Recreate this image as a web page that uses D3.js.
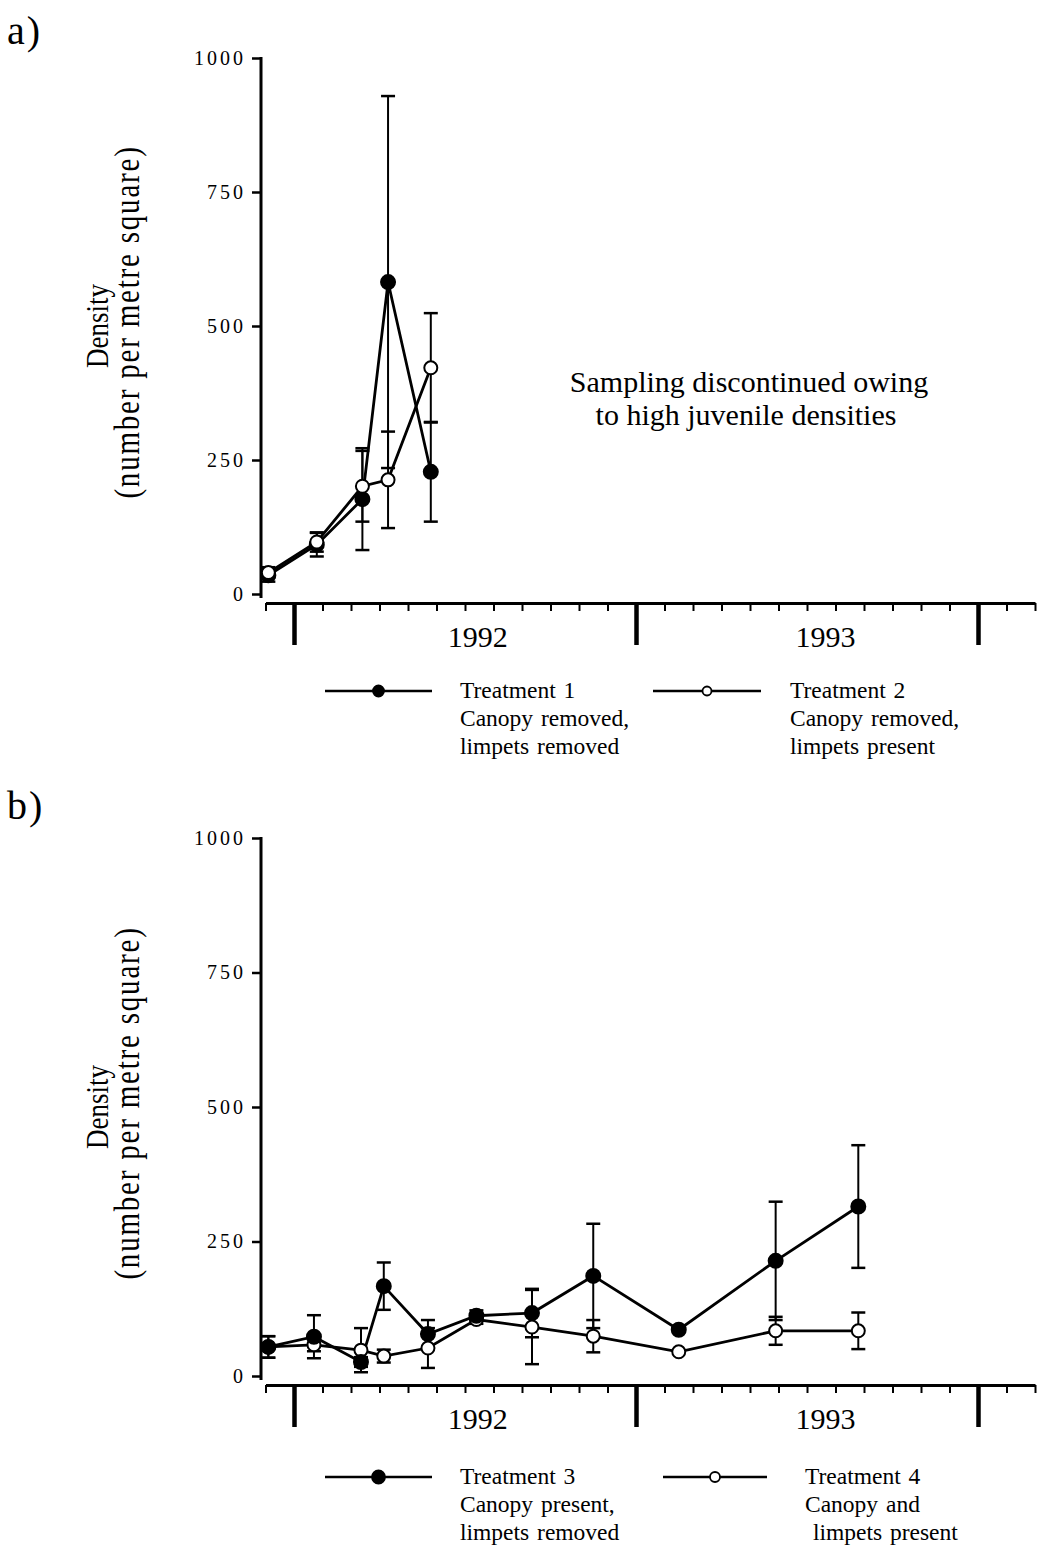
<!DOCTYPE html>
<html>
<head>
<meta charset="utf-8">
<script src="https://cdn.jsdelivr.net/npm/d3@7"></script>
<style>
  html, body { margin: 0; padding: 0; background: #fff; }
  svg { display: block; }
  text { font-family: "Liberation Serif", "Times New Roman", serif; fill: #000; }
</style>
</head>
<body>
<svg id="chart" width="1041" height="1562"></svg>
<script>
// Sampling times, in months from 1 January 1992
const monthsA = [-0.9, 0.8, 2.4, 3.3, 4.8];
const monthsB = [-0.9, 0.7, 2.35, 3.15, 4.7, 6.4, 8.35, 10.5, 13.5, 16.9, 19.8];

// Mean densities (number per square metre) and error half-widths
const t1Mean = [35, 92, 177, 582, 228];
const t1Err  = [12, 22, 95, 347, 93];
const t2Mean = [40, 97, 201, 213, 422];
const t2Err  = [10, 18, 66, 90, 102];

const t3Mean = [54, 73, 26, 167, 78, 112, 117, 186, 86, 214, 315];
const t3Err  = [20, 40, 9, 44, 26, 10, 45, 97, 0, 110, 114];
const t4Mean = [54, 58, 48, 37, 52, 105, 91, 74, 45, 84, 84];
const t4Err  = [20, 12, 41, 12, 37, 8, 69, 30, 0, 26, 34];

const yTicks = [0, 250, 500, 750, 1000];
const yearLabels = ["1992", "1993"];
const yearLabelMonths = [6.45, 18.65];
const yearStarts = [0, 12, 24];

const legendA = [
  { filled: true,  lines: ["Treatment 1", "Canopy removed,", "limpets removed"] },
  { filled: false, lines: ["Treatment 2", "Canopy removed,", "limpets present"] }
];
const legendB = [
  { filled: true,  lines: ["Treatment 3", "Canopy present,", "limpets removed"] },
  { filled: false, lines: ["Treatment 4", "Canopy and", " limpets present"] }
];

const svg = d3.select("#chart");
const x = d3.scaleLinear().domain([-1, 26]).range([265.5, 1035]);

function panel(cfg) {
  const y = d3.scaleLinear().domain([0, 1000]).range([cfg.y0, cfg.y1000]);
  const g = svg.append("g");

  // panel letter
  g.append("text").attr("x", 7).attr("y", cfg.letterY)
    .style("font-size", "40px").style("letter-spacing", "2px").text(cfg.letter);

  // y axis
  const ya = g.append("g").attr("transform", "translate(261,0)")
    .call(d3.axisLeft(y).tickValues(yTicks).tickFormat(d3.format("d"))
      .tickSize(9).tickSizeOuter(0).tickPadding(6));
  ya.select(".domain").attr("stroke-width", 3).attr("d", `M0,${cfg.y1000 - 1}V${cfg.y0 + 4}`);
  ya.selectAll(".tick line").attr("stroke-width", 2.5);
  ya.selectAll(".tick text").style("font-size", "20px")
    .style("font-family", "'Liberation Serif', serif").style("letter-spacing", "3px");

  // y axis title (glyphs drawn slightly tall and narrow)
  const yc = (cfg.y0 + cfg.y1000) / 2;
  const stretch = 1.2;
  const title = g.append("text")
    .attr("transform", `translate(0,${yc}) rotate(-90) scale(1,${stretch})`)
    .attr("text-anchor", "middle");
  title.append("tspan").attr("x", 0).attr("y", 108 / stretch)
    .style("font-size", "27px").text("Density");
  title.append("tspan").attr("x", 4).attr("y", 139 / stretch)
    .style("font-size", "29px").style("letter-spacing", "1.8px").text("(number per metre square)");

  // x axis: monthly minor ticks and long year-boundary ticks
  const xa = g.append("g").attr("transform", `translate(0,${cfg.axisY})`)
    .call(d3.axisBottom(x).tickValues(d3.range(-1, 27)).tickSize(8).tickSizeOuter(0).tickFormat(""));
  xa.select(".domain").attr("stroke-width", 3);
  xa.selectAll(".tick line").attr("stroke-width", 2);
  const xm = g.append("g").attr("transform", `translate(0,${cfg.axisY})`)
    .call(d3.axisBottom(x).tickValues(yearStarts).tickSize(42).tickSizeOuter(0).tickFormat(""));
  xm.select(".domain").remove();
  xm.selectAll(".tick line").attr("stroke-width", 4.5);

  g.selectAll(".yearLabel").data(yearLabels).join("text")
    .attr("x", (d, i) => x(yearLabelMonths[i]))
    .attr("y", cfg.axisY + 44)
    .attr("text-anchor", "middle").style("font-size", "30px")
    .text(d => d);

  // series
  cfg.series.forEach(s => {
    const pts = cfg.months.map((m, i) => ({ m, v: s.mean[i], e: s.err[i] }));
    // error bars
    const eb = g.append("g").attr("stroke", "#000").attr("stroke-width", 2);
    pts.filter(p => p.e > 0).forEach(p => {
      const cx = x(p.m);
      eb.append("line").attr("x1", cx).attr("x2", cx)
        .attr("y1", y(p.v - p.e)).attr("y2", y(p.v + p.e));
      [p.v - p.e, p.v + p.e].forEach(v => {
        eb.append("line").attr("x1", cx - 7).attr("x2", cx + 7)
          .attr("y1", y(v)).attr("y2", y(v)).attr("stroke-width", 2.5);
      });
    });
    s.pts = pts;
  });
  cfg.series.forEach(s => {
    g.append("path").datum(s.pts)
      .attr("fill", "none").attr("stroke", "#000").attr("stroke-width", 2.8)
      .attr("d", d3.line().x(d => x(d.m)).y(d => y(d.v)));
  });
  // markers, in the stacking order given by the panel
  cfg.markerOrder.forEach(idx => {
    const s = cfg.series[idx];
    g.selectAll(null).data(s.pts).join("circle")
      .attr("cx", d => x(d.m)).attr("cy", d => y(d.v))
      .attr("r", s.filled ? 7 : 6.5)
      .attr("fill", s.filled ? "#000" : "#fff")
      .attr("stroke", "#000").attr("stroke-width", 2);
  });

  // legend
  cfg.legend.forEach((item, i) => {
    const L = cfg.legendPos[i];
    g.append("line").attr("x1", L.x1).attr("x2", L.x2)
      .attr("y1", L.y).attr("y2", L.y).attr("stroke", "#000").attr("stroke-width", 2.4);
    g.append("circle").attr("cx", (L.x1 + L.x2) / 2).attr("cy", L.y)
      .attr("r", item.filled ? L.rf : L.ro)
      .attr("fill", item.filled ? "#000" : "#fff")
      .attr("stroke", "#000").attr("stroke-width", 1.8);
    const t = g.append("text").style("font-size", "23.5px").style("word-spacing", "2px")
      .attr("xml:space", "preserve");
    item.lines.forEach((ln, k) => {
      t.append("tspan").attr("x", L.tx).attr("y", L.y + 7 + k * 28).text(ln);
    });
  });
}

panel({
  letter: "a)", letterY: 44,
  y0: 594, y1000: 58, axisY: 603,
  months: monthsA,
  series: [
    { mean: t1Mean, err: t1Err, filled: true },
    { mean: t2Mean, err: t2Err, filled: false }
  ],
  markerOrder: [0, 1],
  legend: legendA,
  legendPos: [
    { x1: 325, x2: 432, y: 691, tx: 460, rf: 5.5, ro: 4.5 },
    { x1: 653, x2: 761, y: 691, tx: 790, rf: 5.5, ro: 4.5 }
  ]
});

panel({
  letter: "b)", letterY: 819,
  y0: 1376, y1000: 838, axisY: 1385,
  months: monthsB,
  series: [
    { mean: t3Mean, err: t3Err, filled: true },
    { mean: t4Mean, err: t4Err, filled: false }
  ],
  markerOrder: [1, 0],
  legend: legendB,
  legendPos: [
    { x1: 325, x2: 432, y: 1477, tx: 460, rf: 6.5, ro: 5 },
    { x1: 663, x2: 767, y: 1477, tx: 805, rf: 6.5, ro: 5 }
  ]
});

// note in the empty part of panel a
const note = svg.append("text").attr("text-anchor", "middle").style("font-size", "30px");
note.append("tspan").attr("x", 749).attr("y", 392).text("Sampling discontinued owing");
note.append("tspan").attr("x", 746).attr("y", 425).text("to high juvenile densities");
</script>
</body>
</html>
